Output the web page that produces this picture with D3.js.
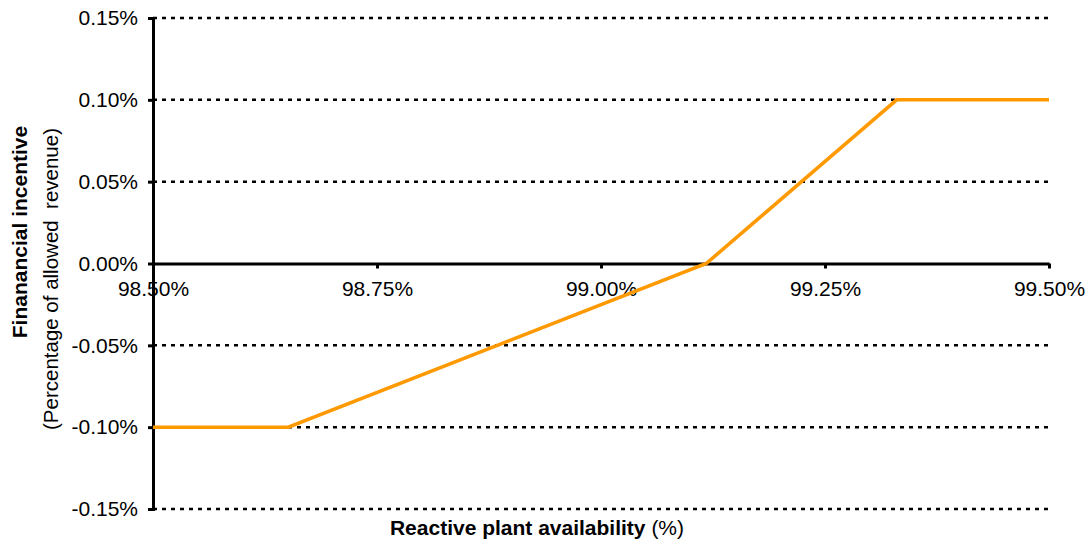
<!DOCTYPE html>
<html>
<head>
<meta charset="utf-8">
<script src="https://cdn.jsdelivr.net/npm/d3@7"></script>
<style>
  html, body { margin: 0; padding: 0; background: #fff; }
  svg { display: block; font-family: "Liberation Sans", Arial, sans-serif; }
</style>
</head>
<body>
<svg id="chart" width="1089" height="545"></svg>
<script>
// Incentive curve: availability (%) vs financial incentive (% of allowed revenue)
const availability = [98.5, 98.651, 99.1175, 99.33, 99.5];
const incentive    = [-0.10, -0.10, 0.00, 0.10, 0.10];

const xTicks = [98.50, 98.75, 99.00, 99.25, 99.50];
const yTicks = [0.15, 0.10, 0.05, 0.00, -0.05, -0.10, -0.15];

const width = 1089, height = 545;
const margin = { top: 18, right: 40, bottom: 36, left: 153 };
const fontSize = 21;

const svg = d3.select("#chart");

const x = d3.scaleLinear().domain([98.5, 99.5]).range([margin.left, width - margin.right]);
const y = d3.scaleLinear().domain([-0.15, 0.15]).range([height - margin.bottom, margin.top]);

// percentage labels with a plain hyphen for negatives
const pct = d => d3.format(".2f")(d).replace("\u2212", "-") + "%";

// dotted horizontal gridlines (zero line drawn as the x axis)
svg.append("g")
  .selectAll("line")
  .data(yTicks.filter(d => d !== 0))
  .join("line")
  .attr("x1", x(98.5)).attr("x2", x(99.5))
  .attr("y1", d => y(d)).attr("y2", d => y(d))
  .attr("stroke", "#000")
  .attr("stroke-width", 2.5)
  .attr("stroke-dasharray", "4,5");

// y axis
const yAxis = svg.append("g")
  .attr("transform", `translate(${x(98.5)},0)`)
  .call(d3.axisLeft(y).tickValues(yTicks).tickSize(5).tickPadding(10).tickFormat(pct));
yAxis.select(".domain").attr("stroke", "#000").attr("stroke-width", 3);
yAxis.selectAll(".tick line").attr("stroke", "#000").attr("stroke-width", 3);
yAxis.selectAll(".tick text")
  .attr("font-size", fontSize).attr("fill", "#000")
  .attr("font-family", "'Liberation Sans', Arial, sans-serif");

// x axis along the zero line
const xAxis = svg.append("g")
  .attr("transform", `translate(0,${y(0)})`)
  .call(d3.axisBottom(x).tickValues(xTicks).tickSize(5).tickSizeOuter(0).tickPadding(13).tickFormat(pct));
xAxis.select(".domain").attr("stroke", "#000").attr("stroke-width", 3);
xAxis.selectAll(".tick line").attr("stroke", "#000").attr("stroke-width", 3);
xAxis.selectAll(".tick text")
  .attr("font-size", fontSize).attr("fill", "#000")
  .attr("font-family", "'Liberation Sans', Arial, sans-serif");

// incentive line
const line = d3.line().x((d, i) => x(availability[i])).y(d => y(d));
svg.append("path")
  .datum(incentive)
  .attr("d", line)
  .attr("fill", "none")
  .attr("stroke", "#FF9900")
  .attr("stroke-width", 3.5)
  .attr("stroke-linejoin", "miter");

// y axis titles
svg.append("text")
  .attr("transform", "translate(27,232) rotate(-90)")
  .attr("text-anchor", "middle")
  .attr("font-size", fontSize).attr("font-weight", "bold")
  .text("Finanancial incentive");

svg.append("text")
  .attr("transform", "translate(58,279) rotate(-90)")
  .attr("text-anchor", "middle")
  .attr("font-size", 20.5)
  .attr("xml:space", "preserve")
  .text("(Percentage of allowed  revenue)");

// x axis title
const xt = svg.append("text")
  .attr("x", 537).attr("y", 535)
  .attr("text-anchor", "middle")
  .attr("font-size", fontSize);
xt.append("tspan").attr("font-weight", "bold").text("Reactive plant availability");
xt.append("tspan").text(" (%)");
</script>
</body>
</html>
